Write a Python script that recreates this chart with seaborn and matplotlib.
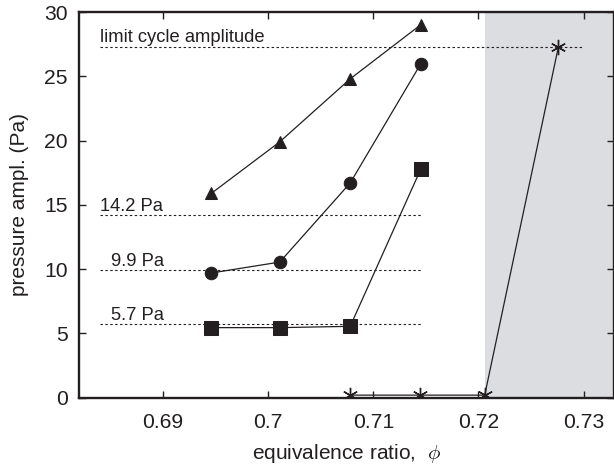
import matplotlib
matplotlib.use("Agg")
import matplotlib.pyplot as plt
import seaborn as sns
import pandas as pd

sns.set_theme(style="ticks")
plt.rcParams["font.family"] = ["Liberation Sans", "DejaVu Sans"]
plt.rcParams["mathtext.fontset"] = "cm"

# equivalence ratio of each operating point
phi = [0.6946, 0.7011, 0.7078, 0.7145]
# pressure amplitudes for the three forcing levels
amp_high = [15.9, 19.9, 24.8, 29.0]
amp_mid = [9.7, 10.55, 16.7, 25.95]
amp_low = [5.45, 5.45, 5.55, 17.75]
# unforced case
phi_unforced = [0.7078, 0.7144, 0.7206, 0.7276]
amp_unforced = [0.2, 0.2, 0.2, 27.25]

# reference amplitude levels
level_values = [27.3, 14.2, 9.9, 5.7]
level_labels = ["limit cycle amplitude", "14.2 Pa", "9.9 Pa", "5.7 Pa"]
level_ends = [0.7300, 0.7145, 0.7145, 0.7145]
unstable_start = 0.7206

ink = "#231f20"

fig = plt.figure(figsize=(6.14, 4.67), dpi=100)
ax = fig.add_axes([0.1287, 0.1484, 0.8713, 0.8259])

ax.axvspan(unstable_start, 0.75, color="#dcdde0", zorder=0, lw=0)

dash = (0, (2.2, 2.2))
label_offsets = [0.0, 0.0, 0.001, 0.001]
for val, lab, end, off in zip(level_values, level_labels, level_ends, label_offsets):
    ax.plot([0.6840, end], [val, val], color=ink, lw=0.8, ls=dash, zorder=1)
    ax.text(0.6840 + off, val + 0.36, lab, fontsize=13.2, color=ink,
            ha="left", va="baseline")

series = [
    (phi, amp_high, "^", 9),
    (phi, amp_mid, "o", 9),
    (phi, amp_low, "s", 9.5),
]
for xs, ys, mk, ms in series:
    df = pd.DataFrame({"phi": xs, "amp": ys})
    sns.lineplot(data=df, x="phi", y="amp", ax=ax, color=ink, lw=0.9,
                 marker=mk, markersize=ms, markeredgecolor=ink,
                 markerfacecolor=ink, zorder=3)

df_u = pd.DataFrame({"phi": phi_unforced, "amp": amp_unforced})
sns.lineplot(data=df_u, x="phi", y="amp", ax=ax, color=ink, lw=0.9,
             marker=(6, 2, 0), markersize=11, markeredgecolor=ink,
             markeredgewidth=1.0, zorder=3)

ax.set_xlim(0.682, 0.7329)
ax.set_ylim(0, 30)
ax.set_xticks([0.69, 0.70, 0.71, 0.72, 0.73])
ax.set_xticklabels(["0.69", "0.7", "0.71", "0.72", "0.73"])
ax.set_yticks([0, 5, 10, 15, 20, 25, 30])

ax.tick_params(direction="in", top=True, right=True, length=5, width=1.0,
               colors=ink, labelsize=15.2, pad=8)
ax.tick_params(axis="x", pad=11)
for s in ax.spines.values():
    s.set_linewidth(1.7)
    s.set_color(ink)

ax.set_xlabel(r"equivalence ratio,  $\phi$", fontsize=15, color=ink, labelpad=7)
ax.set_ylabel("pressure ampl. (Pa)", fontsize=15, color=ink, labelpad=11)

fig.savefig("out.png", dpi=100)
